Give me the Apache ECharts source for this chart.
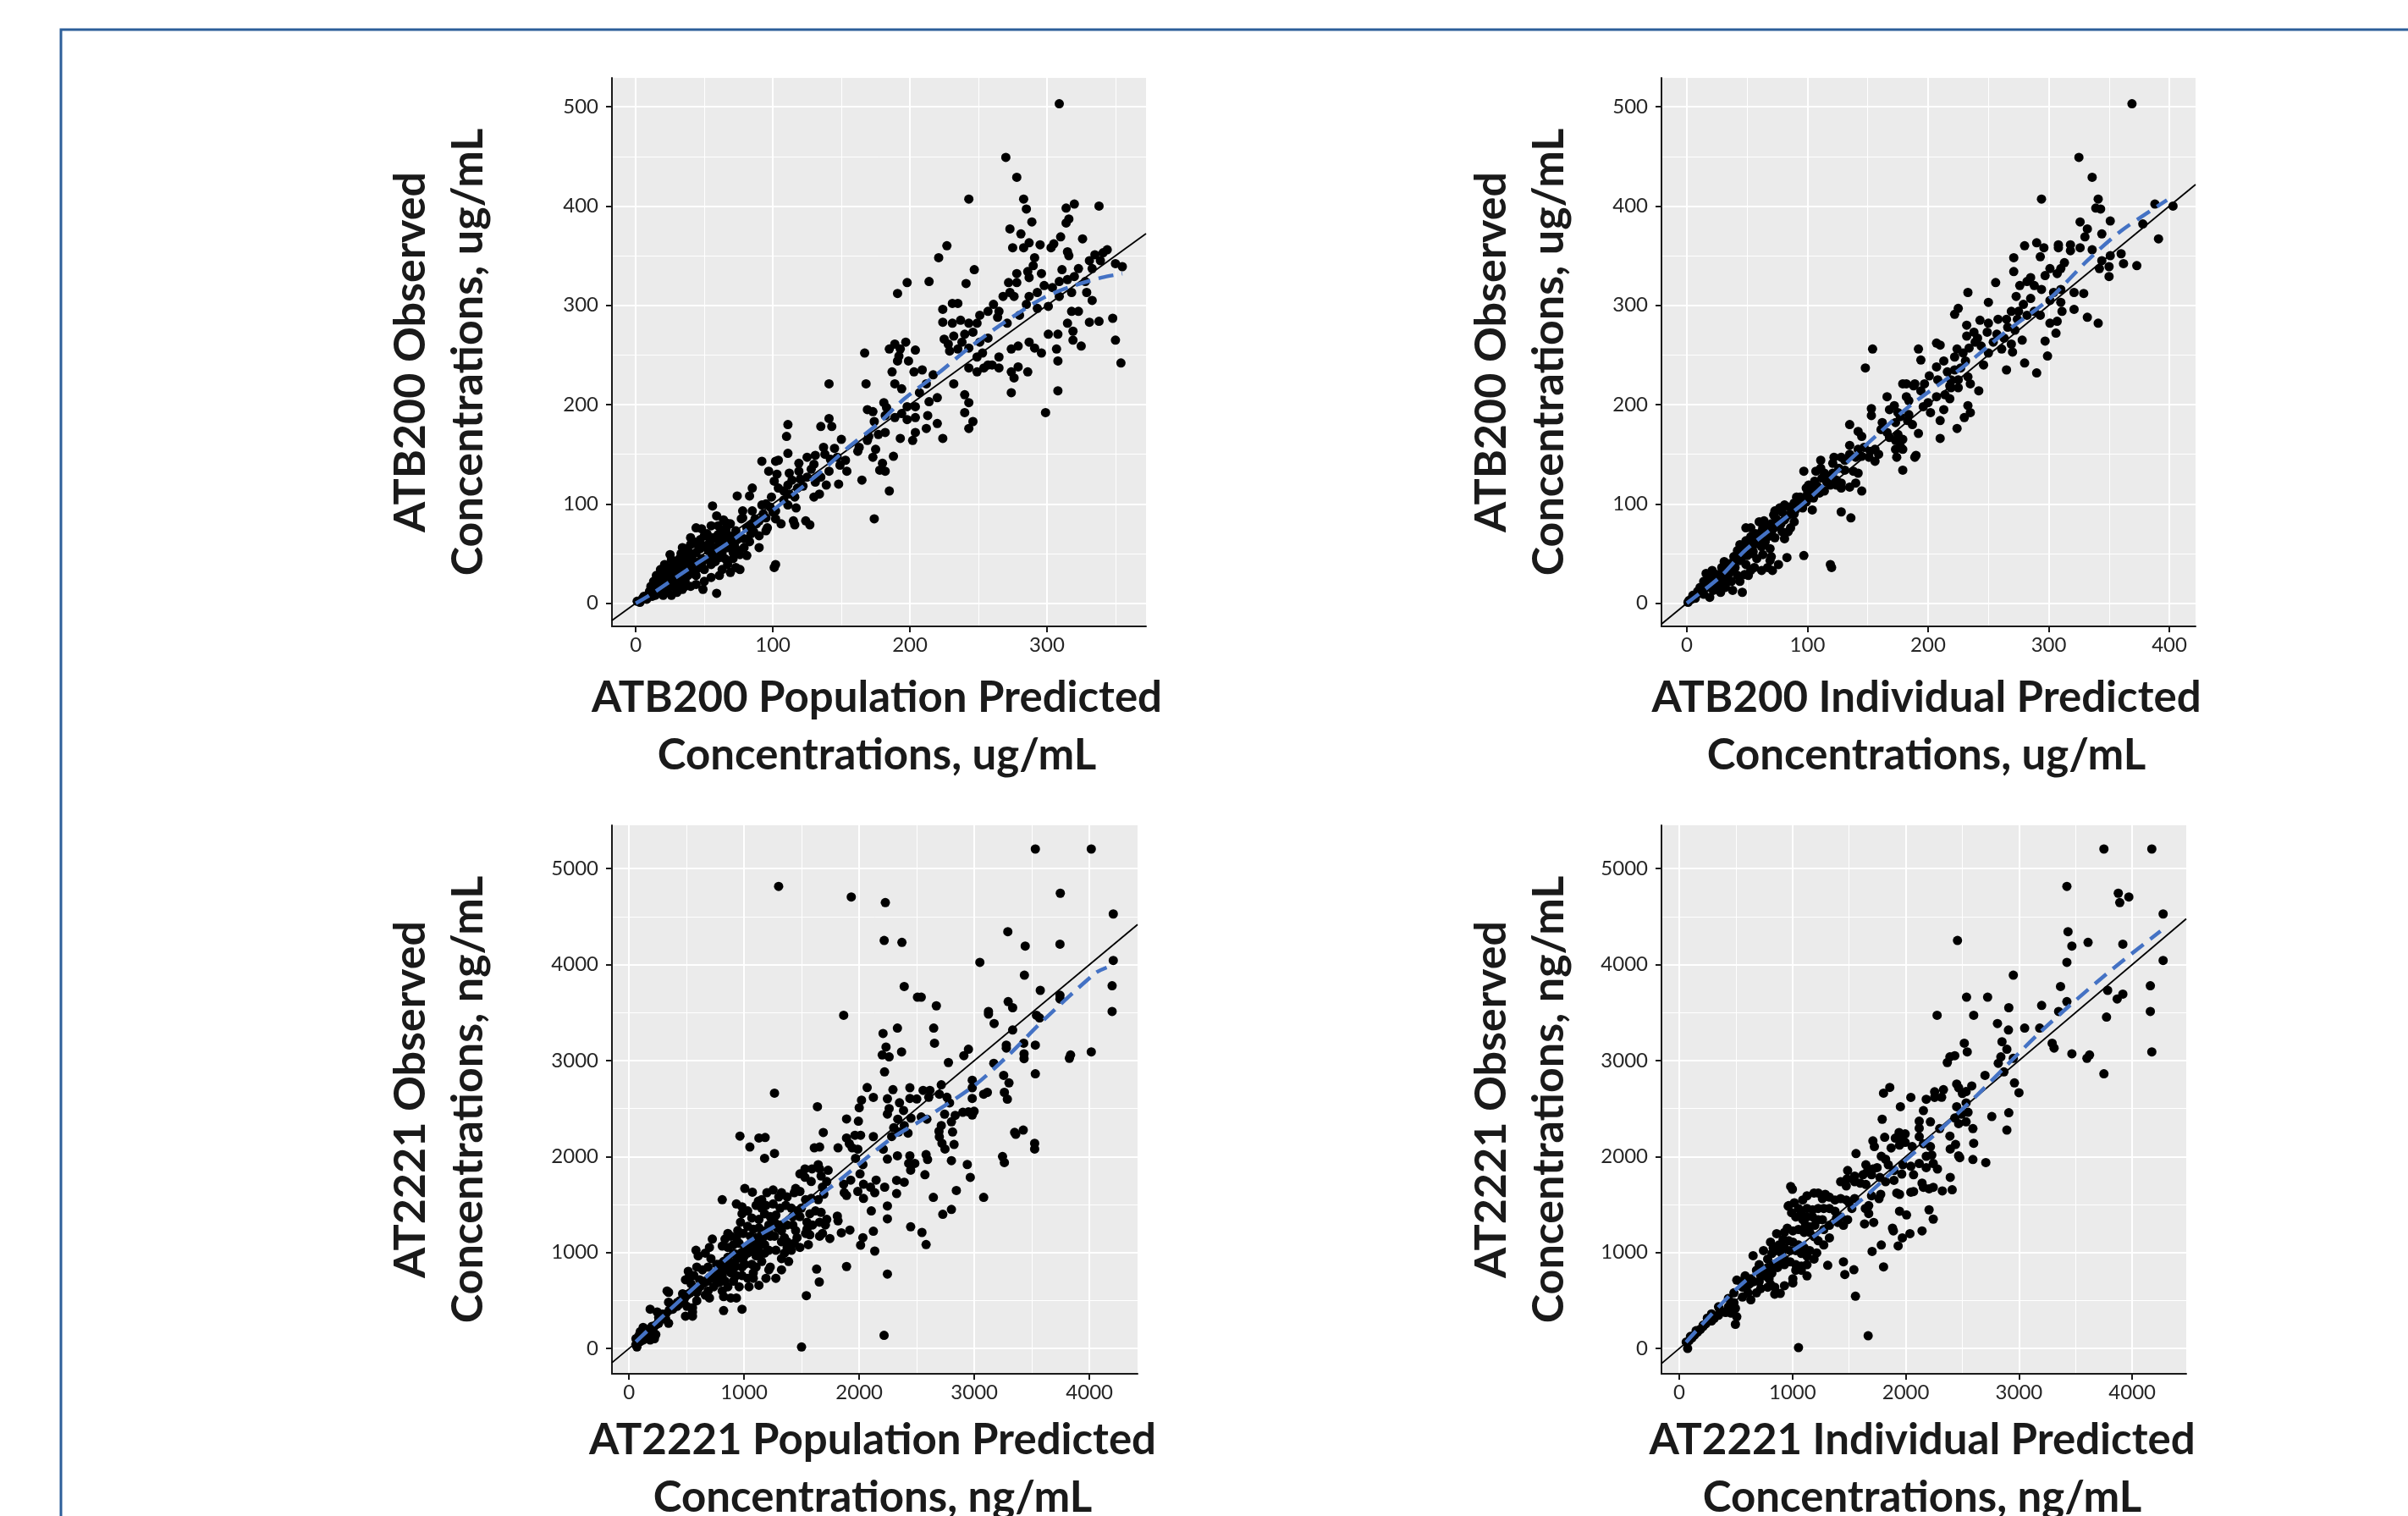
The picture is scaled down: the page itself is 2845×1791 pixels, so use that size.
<!DOCTYPE html>
<html><head><meta charset="utf-8">
<script src="https://cdn.jsdelivr.net/npm/echarts@6/dist/echarts.min.js"></script>
<style>html,body{margin:0;padding:0;background:#fff;}#chart{width:2845px;height:1791px;}</style>
</head><body><div id="chart"></div>
<script>
// ---------- DATA ----------
// ATB200: [population predicted, observed] (ug/mL)
const atb200PopPoints = [
[141,221],[111,180],[110,168],[135,178],[141,186],[143,178],[150,165],[111,151],[92,143],[102,143],[104,144],[97,133],[103,130],[112,131],[119,141],[125,147],[131,149],[137,157],[145,156],[147,147],[153,144],[163,157],[162,153],[165,124],[149,139],[154,133],[141,133],[135,127],[148,120],[139,119],[131,122],[125,127],[119,133],[114,124],[111,119],[118,116],[116,107],[108,113],[104,116],[101,123],[130,107],[134,110],[99,107],[92,99],[98,97],[95,86],[102,85],[106,80],[115,83],[116,79],[124,83],[127,79],[111,99],[117,96],[102,93],[85,93],[87,85],[84,79],[95,73],[90,68],[83,62],[79,65],[73,73],[78,93],[74,108],[83,108],[85,116],[56,98],[59,88],[66,81],[78,86],[44,76],[48,75],[55,78],[40,66],[50,68],[60,69],[65,65],[70,59],[75,53],[81,48],[76,49],[71,45],[73,36],[67,39],[63,34],[69,31],[61,28],[55,26],[50,22],[101,36],[102,39],[49,14],[59,10],[34,56],[40,59],[25,49],[26,44],[36,39],[44,51],[48,45],[53,53],[57,48],[44,34],[38,28],[32,22],[36,17],[30,19],[24,25],[20,28],[18,34],[15,28],[22,36],[26,34],[28,28],[13,22],[11,17],[17,14],[22,11],[26,8],[9,8],[5,5],[1,2],[3,1],[7,5],[14,8],[30,11],[34,14],[40,17],[33,34],[37,45],[31,39],[21,39],[19,22],[24,17],[30,25],[36,22],[44,28],[46,36],[50,34],[55,39],[57,56],[61,62],[63,51],[65,45],[67,56],[54,62],[45,59],[39,51],[35,48],[28,34],[32,45],[42,42],[19,17],[10,12],[8,4],[12,7],[15,9],[20,8],[23,14],[27,17],[44,19],[76,34],[61,46],[71,51],[66,71],[71,68],[79,56],[90,56],[77,85],[96,76],
[12,14],[16,18],[18,12],[22,20],[25,22],[28,20],[30,30],[33,28],[35,30],[38,36],[40,38],[42,30],[45,40],[48,38],[52,44],[55,50],[58,42],[60,55],[62,48],[64,60],[68,62],[70,66],[72,58],[74,64],[20,24],[24,30],[27,38],[16,24],[14,16],[10,10],[6,7],[4,3],[29,42],[33,50],[36,55],[41,47],[47,55],[51,58],[58,65],[62,72],[66,76],[69,80],[52,70],[56,66],[60,78],[64,84],[47,64],[42,62],[86,72],[88,80],[93,90],[81,76],[84,70],[90,83],[100,92],[95,100],[108,104],[112,110],[122,118],[120,125],[128,135],[130,140],[142,145],[138,150],
[309,503],[270,449],[278,429],[243,407],[283,407],[285,397],[314,398],[320,402],[338,400],[289,384],[273,377],[281,372],[314,383],[316,387],[310,369],[326,367],[275,358],[283,358],[287,363],[295,361],[303,358],[305,362],[315,354],[316,350],[335,351],[341,353],[344,356],[331,345],[339,345],[333,337],[350,342],[355,339],[227,360],[221,348],[198,323],[191,312],[214,324],[241,322],[247,336],[291,348],[290,340],[286,334],[278,332],[272,323],[278,323],[273,313],[268,309],[276,309],[287,328],[296,332],[298,320],[293,313],[287,309],[304,318],[311,336],[315,326],[320,329],[323,337],[329,313],[333,305],[309,324],[318,313],[328,324],[309,309],[301,299],[293,297],[285,301],[280,290],[271,282],[264,288],[261,301],[257,294],[265,294],[251,290],[249,282],[243,282],[240,271],[246,273],[238,263],[235,256],[229,254],[231,302],[235,302],[224,296],[224,283],[231,282],[237,285],[225,266],[228,261],[232,269],[243,257],[251,263],[257,267],[253,252],[249,248],[243,237],[249,233],[254,237],[260,240],[265,248],[257,240],[265,237],[274,256],[279,259],[287,263],[291,257],[296,252],[301,271],[308,271],[307,256],[308,244],[308,214],[299,192],[319,274],[325,259],[319,265],[274,233],[279,238],[276,227],[286,233],[274,212],[232,221],[240,210],[243,202],[240,192],[246,183],[243,176],[354,242],[350,265],[348,287],[338,284],[331,283],[318,294],[315,282],[323,294],
[167,252],[168,221],[185,256],[189,261],[197,263],[193,256],[192,249],[199,244],[204,255],[191,244],[187,233],[189,221],[194,216],[203,233],[209,235],[207,212],[212,221],[217,230],[220,207],[214,203],[204,198],[198,198],[194,191],[198,185],[204,187],[213,189],[220,181],[224,166],[212,176],[204,172],[202,164],[193,166],[189,187],[183,197],[182,189],[181,202],[173,193],[169,195],[174,183],[170,168],[177,170],[182,172],[188,148],[175,155],[173,147],[180,141],[178,134],[182,133],[185,113],[174,85],[169,164]
];
// ATB200: [individual predicted, observed] (ug/mL)
const atb200IndPoints = [
[179,221],[182,221],[188,219],[166,208],[182,208],[184,204],[172,199],[168,195],[153,196],[153,189],[175,192],[177,188],[184,190],[183,184],[187,180],[162,182],[173,182],[161,175],[166,172],[168,167],[175,170],[179,165],[173,164],[177,158],[173,155],[179,155],[174,147],[179,134],[189,147],[135,180],[142,173],[145,168],[135,159],[142,155],[147,157],[152,153],[156,155],[159,150],[156,143],[151,147],[145,148],[140,147],[135,150],[131,144],[128,147],[122,147],[121,141],[111,144],[111,136],[107,133],[114,131],[121,131],[126,136],[131,134],[138,133],[142,131],[140,121],[145,113],[128,121],[124,124],[119,127],[112,126],[106,123],[101,119],[105,113],[100,110],[99,116],[110,111],[114,113],[119,119],[124,119],[128,116],[135,117],[97,133],[105,106],[94,107],[91,107],[89,101],[93,99],[104,94],[96,96],[89,93],[85,97],[81,99],[77,96],[73,93],[72,89],[74,85],[81,84],[89,82],[86,76],[84,72],[79,72],[73,66],[67,67],[63,76],[60,82],[64,83],[67,77],[71,74],[74,77],[70,80],[49,76],[53,76],[53,67],[49,63],[58,65],[64,59],[69,55],[70,47],[63,49],[58,45],[53,50],[48,56],[44,59],[42,53],[39,47],[44,43],[49,39],[53,33],[48,29],[42,28],[39,33],[36,38],[31,42],[29,36],[35,30],[34,22],[38,13],[46,11],[28,19],[23,22],[22,13],[17,16],[18,25],[16,30],[21,33],[25,29],[14,22],[11,16],[9,12],[5,8],[2,3],[1,1],[7,5],[14,9],[19,6],[28,11],[32,16],[25,16],[32,28],[37,22],[44,22],[51,28],[56,36],[62,33],[67,36],[71,33],[76,39],[69,43],[83,46],[97,48],[62,57],[57,70],[55,59],[81,65],[77,82],[119,39],[120,36],[128,92],[136,86],[108,114],[117,124],[89,90],[79,92],
[10,10],[12,14],[15,18],[20,20],[24,24],[27,26],[30,32],[33,35],[36,40],[40,42],[43,46],[46,50],[50,54],[54,56],[57,60],[60,64],[63,68],[66,70],[70,72],[75,78],[78,80],[82,88],[86,90],[90,94],[95,98],[99,102],[103,108],[108,118],[116,122],[20,16],[26,22],[30,26],[35,33],[40,36],[45,45],[50,48],[55,52],[60,60],[65,62],[70,68],[6,6],[4,4],[17,20],[23,28],[45,52],[52,60],[58,68],[62,72],
[369,503],[325,449],[336,429],[294,407],[341,407],[339,398],[343,397],[388,402],[403,400],[326,384],[351,385],[378,382],[332,377],[330,369],[344,372],[391,367],[280,360],[290,363],[296,358],[308,361],[308,358],[318,361],[326,358],[318,355],[336,356],[351,350],[360,352],[362,342],[373,340],[350,339],[344,345],[342,337],[350,329],[271,348],[271,334],[293,349],[285,328],[301,337],[307,332],[310,337],[313,343],[297,330],[288,320],[294,316],[304,313],[310,316],[301,305],[310,303],[321,313],[329,312],[321,296],[311,294],[307,284],[301,282],[306,272],[297,264],[299,249],[290,232],[280,242],[270,253],[265,235],[278,265],[332,288],[341,282],[282,324],[276,320],[273,309],[279,301],[285,307],[288,294],[293,290],[282,290],[274,286],[266,278],[272,275],[263,267],[257,271],[261,256],[269,261],[275,294],[269,294],[265,286],[258,286],[250,282],[249,273],[241,267],[244,259],[254,263],[250,252],[246,240],[242,214],[256,323],[250,303],[243,285],[225,297],[222,291],[232,280],[232,269],[238,273],[239,263],[234,257],[229,252],[231,244],[224,256],[222,248],[227,237],[222,235],[216,233],[219,225],[225,225],[233,228],[235,221],[225,217],[218,219],[233,313],[207,262],[210,260],[192,256],[194,245],[207,238],[213,244],[201,229],[208,225],[197,221],[189,221],[194,214],[200,202],[207,208],[214,210],[219,217],[218,206],[196,198],[213,195],[202,192],[233,199],[235,192],[230,187],[224,176],[210,184],[210,166],[190,149],[192,171],[148,237],[154,256]
];
// AT2221: [population predicted, observed] (ng/mL)
const at2221PopPoints = [
[1264,2661],[1637,2520],[2069,2719],[2123,2617],[2020,2588],[2000,2509],[2245,2602],[2245,2442],[1890,2392],[1993,2368],[964,2213],[1129,2193],[1183,2199],[1050,2099],[1178,1982],[1264,2032],[1688,2251],[1610,2091],[1656,2099],[1816,2091],[1890,2193],[1963,2222],[2012,2222],[1914,2135],[1939,2091],[1988,2076],[2123,2208],[2209,2076],[2245,1974],[1968,1982],[2032,1915],[2007,1819],[2147,1754],[2221,1681],[2098,1681],[2037,1711],[1988,1637],[2037,1564],[2135,1623],[2245,1485],[2105,1433],[2245,1351],[2123,1222],[2032,1155],[2012,1076],[2135,1015],[2245,775],[1890,854],[1919,1234],[1845,1205],[1865,1711],[1926,1754],[1870,1623],[1890,1594],[1656,1871],[1730,1857],[1644,1915],[1590,1871],[1529,1871],[1485,1819],[1529,1784],[1583,1740],[1669,1798],[1718,1740],[1681,1681],[1693,1608],[1644,1550],[1583,1564],[1534,1550],[1485,1637],[1448,1667],[1436,1623],[1374,1579],[1325,1623],[1301,1579],[1252,1652],[1198,1623],[1153,1550],[1124,1535],[1104,1491],[1153,1462],[1190,1491],[1252,1506],[1313,1462],[1362,1491],[1411,1462],[1460,1433],[1497,1462],[1571,1404],[1620,1433],[1669,1418],[1718,1345],[1706,1287],[1656,1316],[1595,1287],[1546,1316],[1546,1243],[1571,1184],[1656,1170],[1681,1199],[1745,1146],[1810,1380],[1816,1330],[1558,1082],[1448,1228],[1460,1155],[1436,1096],[1411,1023],[1374,1053],[1350,1155],[1325,1228],[1313,1287],[1264,1316],[1215,1287],[1227,1374],[1276,1389],[1178,1404],[1129,1345],[1067,1360],[1031,1433],[982,1404],[933,1506],[982,1477],[1006,1667],[1072,1629],[810,1550],[969,1316],[1031,1272],[1080,1243],[1129,1257],[1190,1228],[1264,1170],[1325,1111],[1374,1111],[1350,994],[1325,936],[1276,1023],[1215,1023],[1178,1082],[1129,1111],[1104,1155],[1055,1170],[994,1199],[945,1228],[933,1155],[884,1170],[859,1199],[834,1140],[810,1067],[859,1053],[908,1082],[957,1096],[1006,1053],[1031,994],[1080,1009],[1129,965],[1153,906],[1104,848],[1067,877],[1006,877],[982,936],[933,965],[908,994],[859,950],[822,906],[785,877],[834,833],[884,789],[933,760],[982,760],[1031,731],[1080,731],[1129,658],[1043,643],[1190,731],[1215,819],[1276,731],[1080,789],[982,848],[724,1140],[699,1053],[582,1023],[601,965],[663,994],[712,936],[761,877],[687,848],[638,819],[589,848],[515,804],[564,760],[614,716],[663,702],[712,731],[761,789],[810,760],[834,702],[785,687],[736,643],[687,599],[699,526],[663,556],[589,585],[564,614],[540,673],[491,716],[515,731],[810,599],[859,643],[822,541],[822,395],[479,512],[503,439],[552,424],[552,336],[491,336],[552,380],[417,439],[442,497],[589,497],[344,585],[344,482],[331,599],[184,409],[245,380],[290,357],[258,322],[319,307],[344,263],[258,263],[221,234],[196,205],[172,175],[123,219],[98,175],[86,132],[61,102],[69,15],[147,117],[184,88],[221,102],[233,146],[209,175],[147,146],[123,88],[98,73],[982,409],[933,526],[884,526],[1541,550],[1499,15],[1630,827],[1653,693],[2216,137],[466,570],[430,453],[380,409],[908,702],[957,643],[920,848],[1141,1170],[1227,1170],[1288,1257],[1374,1287],[1423,1374],[1485,1374],[1423,1287],[1534,1199],[1485,1053],[1387,906],[1325,819],[1227,848],[1178,994],[1104,965],
[80,60],[110,120],[150,160],[200,230],[260,290],[300,330],[350,400],[400,450],[450,500],[500,560],[560,600],[620,650],[680,700],[740,760],[800,820],[860,880],[920,900],[980,1000],[1040,1020],[1100,1080],[1160,1150],[1220,1200],[60,40],[130,150],[170,200],[240,250],[280,310],[320,360],[380,430],[420,480],[470,520],[530,580],[600,620],[650,680],[700,740],[760,720],[820,860],[880,840],[940,980],[1000,960],[1060,1100],[1120,1040],
[1300,4815],[1931,4705],[2227,4646],[3530,5205],[4016,5205],[3747,4744],[4207,4528],[2217,4252],[2371,4232],[3291,4343],[3442,4193],[3744,4213],[3048,4024],[4207,4043],[3435,3890],[2391,3772],[2506,3661],[2539,3661],[2670,3571],[3573,3732],[3744,3681],[3744,3642],[4197,3780],[4197,3512],[3294,3614],[3333,3551],[3123,3512],[3123,3484],[3172,3386],[3540,3472],[3567,3445],[3333,3319],[3278,3161],[3278,3130],[3429,3181],[3530,3161],[3432,3071],[3432,3020],[3826,3024],[3836,3059],[4016,3091],[3530,2862],[3255,2846],[3301,2768],[3261,2669],[3287,2598],[3081,2650],[3113,2669],[3169,2972],[2949,3118],[2909,3051],[2647,3339],[2332,3339],[2654,3181],[2368,3091],[1865,3472],[2207,3283],[2233,3142],[2200,3059],[2260,3039],[2220,2882],[2775,2980],[2713,2748],[2982,2795],[2982,2717],[2982,2606],[2949,2465],[2998,2472],[2982,2433],[2900,2461],[2834,2429],[2801,2362],[2811,2256],[2824,2126],[2801,1957],[2745,2079],[2719,2138],[2696,2205],[2693,2264],[2713,2323],[2742,2441],[2785,2559],[2762,2618],[2696,2650],[2614,2689],[2555,2689],[2604,2618],[2440,2717],[2440,2606],[2293,2697],[2385,2480],[2335,2390],[2342,2256],[2391,2323],[2424,2244],[2440,2008],[2430,1929],[2447,1858],[2539,2413],[2588,2390],[2581,2020],[2594,1969],[2939,1917],[2965,1783],[3081,1575],[2844,1646],[2801,1449],[2726,1398],[2447,1268],[2545,1209],[2581,1083],[2325,1752],[3245,2000],[3261,1937],[3350,2252],[3360,2232],[3425,2276],[3524,2138],[3524,2079],
[2282,2209],[2332,2008],[2391,1732],[2483,1929],[2571,1811],[2644,1575],[2325,1614],[2300,2300],[2260,2500],[2350,2560],[2500,2600],[2450,2400]
];
// AT2221: [individual predicted, observed] (ng/mL)
const at2221IndPoints = [
[1859,2720],[1804,2661],[2045,2617],[2181,2597],[2255,2675],[2255,2617],[1953,2520],[2156,2479],[1792,2389],[2119,2368],[2218,2362],[2119,2295],[1941,2251],[1995,2236],[1814,2201],[1908,2192],[1965,2192],[1710,2163],[1723,2104],[1871,2090],[1945,2119],[1995,2148],[2057,2104],[2119,2207],[2156,2134],[2218,2104],[2230,2016],[2181,2002],[1561,2031],[1784,2002],[1822,1972],[1846,1914],[1747,1885],[1648,1914],[1710,1870],[1660,1841],[1623,1811],[1549,1796],[1487,1855],[1482,1767],[1425,1738],[1475,1694],[1549,1738],[1599,1723],[1648,1709],[1698,1811],[1772,1782],[1822,1738],[1896,1752],[1965,1817],[1896,1855],[1975,1914],[2045,1899],[2069,1811],[2181,1885],[2119,1928],[2243,1928],[2280,1870],[2144,1723],[2156,1679],[2206,1664],[2243,1679],[2069,1635],[2045,1629],[1921,1620],[1945,1606],[1779,1606],[1764,1562],[1698,1591],[1673,1489],[1643,1459],[1673,1406],[1636,1298],[1717,1313],[1945,1430],[2007,1392],[2206,1445],[2243,1348],[2144,1225],[2037,1196],[1970,1152],[1891,1225],[1883,1254],[1933,1069],[1784,1078],[1703,1011],[1804,850],[1549,1562],[1499,1518],[1524,1459],[1475,1547],[1425,1562],[1375,1547],[1326,1577],[1289,1606],[1264,1562],[1227,1620],[1190,1620],[1128,1591],[1090,1547],[1128,1459],[1177,1445],[1227,1459],[1276,1459],[1326,1459],[1375,1430],[1425,1371],[1388,1357],[1487,1342],[1450,1284],[1400,1313],[1326,1284],[1276,1240],[1326,1152],[1276,1078],[1227,1122],[1190,1166],[1152,1210],[1115,1284],[1090,1342],[1029,1371],[992,1415],[967,1489],[999,1659],[984,1688],[962,1483],[1016,1518],[1053,1459],[1078,1401],[1128,1371],[1177,1371],[1227,1342],[1264,1342],[1197,1284],[1152,1269],[1103,1210],[1053,1240],[1003,1225],[954,1254],[929,1210],[860,1196],[917,1137],[967,1122],[1003,1108],[1053,1078],[1103,1049],[1152,1020],[1214,996],[1190,932],[1128,961],[1078,990],[1029,1020],[979,1020],[929,1049],[880,1078],[830,1049],[818,990],[781,932],[744,1020],[706,873],[652,967],[682,815],[731,800],[781,844],[830,873],[880,903],[929,932],[979,903],[1029,873],[1078,859],[1128,873],[1128,756],[1078,815],[1029,815],[1003,727],[1003,683],[929,654],[892,574],[843,639],[806,668],[793,727],[756,756],[706,697],[632,727],[582,756],[545,697],[508,712],[570,639],[607,580],[558,536],[632,507],[682,580],[719,624],[781,639],[843,566],[1450,903],[1542,820],[1462,771],[1311,867],[1556,545],[1668,132],[1053,9],[496,419],[483,478],[458,369],[508,331],[496,252],[434,434],[409,375],[359,404],[347,346],[310,316],[285,287],[248,316],[235,258],[211,229],[186,199],[161,170],[136,141],[112,111],[87,82],[62,67],[74,0],[99,126],[149,185],[211,243],[285,360],[347,434],[434,522],[483,580],[558,639],[607,668],[657,697],[719,756],[769,815],[818,785],[868,844],[929,873],[905,990],[855,1020],[806,1108],
[3750,5205],[4173,5205],[3423,4815],[3877,4744],[3890,4646],[3970,4705],[4273,4528],[2457,4252],[3433,4343],[3610,4232],[3467,4193],[3917,4213],[3423,4024],[4273,4043],[2950,3890],[3367,3772],[3783,3732],[3917,3693],[3867,3642],[4160,3780],[4160,3512],[2537,3661],[2723,3661],[2277,3472],[2600,3472],[2910,3551],[3200,3575],[3423,3614],[3350,3512],[3773,3453],[3050,3339],[3183,3339],[2810,3386],[2907,3319],[3293,3181],[3310,3130],[3467,3071],[3600,3024],[3623,3059],[4173,3091],[3750,2862],[2850,3197],[2893,3118],[2517,3181],[2543,3091],[2433,3051],[2390,3039],[2367,2980],[2840,3039],[2817,2972],[2867,2882],[2950,3024],[2700,2846],[2960,2768],[3000,2665],[2760,2417],[2910,2457],[2893,2276],[2707,1937],[2600,2138],[2593,1969],[2593,2291],[2550,2461],[2533,2362],[2493,2441],[2467,2343],[2433,2402],[2450,2520],[2533,2559],[2500,2657],[2467,2717],[2583,2736],[2533,2677],[2450,2756],[2333,2697],[2317,2618],[2300,2291],[2390,2213],[2440,2126],[2393,2079],[2467,2008],[2477,1988],[2410,1654],[2393,1783],[2323,1642]
];
// Loess smooth curves (blue dashed)
const atb200PopLoess = [[0,0],[10,8],[39,35],[72,65],[105,99],[133,130],[155,157],[177,181],[196,206],[221,232],[243,257],[268,282],[298,308],[320,320],[340,328],[355,332]];
const atb200IndLoess = [[0,0],[28,27],[49,54],[100,104],[132,141],[160,172],[184,198],[229,238],[263,272],[301,307],[332,345],[360,375],[398,406]];
const at2221PopLoess = [[60,70],[470,530],[1000,1080],[1330,1320],[1740,1670],[2270,2180],[2600,2420],[3000,2740],[3300,3060],[3600,3420],[4050,3910],[4150,3970]];
const at2221IndLoess = [[60,65],[580,700],[1130,1120],[1550,1490],[1930,1890],[2290,2265],[2630,2640],[3200,3310],[3770,3900],[4250,4350]];
// Tick labels
const atb200PopXTicks = [0,100,200,300];
const atb200IndXTicks = [0,100,200,300,400];
const atb200YTicks = [0,100,200,300,400,500];
const at2221XTicks = [0,1000,2000,3000,4000];
const at2221YTicks = [0,1000,2000,3000,4000,5000];
// Axis extents
const xExtents = [[-17.4,372.3],[-21,421.7],[-148,4418],[-157,4477]];
const yExtents = [[-23.3,529.1],[-23.3,529.1],[-264,5452],[-264,5452]];
// Titles
const xTitles = ['ATB200 Population Predicted\nConcentrations, ug/mL','ATB200 Individual Predicted\nConcentrations, ug/mL','AT2221 Population Predicted\nConcentrations, ng/mL','AT2221 Individual Predicted\nConcentrations, ng/mL'];
const yTitles = ['ATB200 Observed\nConcentrations, ug/mL','ATB200 Observed\nConcentrations, ug/mL','AT2221 Observed\nConcentrations, ng/mL','AT2221 Observed\nConcentrations, ng/mL'];

// ---------- LAYOUT ----------
const grids = [
  {left:723, top:92, width:631, height:648},
  {left:1963, top:92, width:631, height:648},
  {left:723, top:975, width:621, height:648},
  {left:1963, top:975, width:620, height:648}
];
const pointSets = [atb200PopPoints, atb200IndPoints, at2221PopPoints, at2221IndPoints];
const loessSets = [atb200PopLoess, atb200IndLoess, at2221PopLoess, at2221IndLoess];
const xTickSets = [atb200PopXTicks, atb200IndXTicks, at2221XTicks, at2221XTicks];
const yTickSets = [atb200YTicks, atb200YTicks, at2221YTicks, at2221YTicks];
const yTitlePos = [[519,416],[1796,416],[519,1299],[1796,1299]];
const xTitlePos = [[1036,859],[2276,859],[1031,1736],[2271,1736]];

const AX = '#1a1a1a';
const LABEL = {fontFamily:'Lato', fontSize:24, color:'#262626', formatter: v => String(v)};

const option = {
  animation:false,
  backgroundColor:'#ffffff',
  grid: grids.map(g => Object.assign({show:true, backgroundColor:'#EBEBEB', borderWidth:0, containLabel:false, outerBoundsMode:'none'}, g)),
  xAxis: grids.map((g,i) => ({
    type:'value', gridIndex:i, min:xExtents[i][0], max:xExtents[i][1],
    axisLine:{show:true, onZero:false, lineStyle:{color:AX, width:2}},
    axisTick:{show:true, length:7, lineStyle:{color:AX, width:2}, customValues:xTickSets[i]},
    axisLabel:Object.assign({margin:10, customValues:xTickSets[i]}, LABEL),
    splitLine:{show:true, lineStyle:{color:'#ffffff', width:2}},
    minorTick:{show:false, splitNumber:2},
    minorSplitLine:{show:true, lineStyle:{color:'#ffffff', width:1}}
  })),
  yAxis: grids.map((g,i) => ({
    type:'value', gridIndex:i, min:yExtents[i][0], max:yExtents[i][1],
    axisLine:{show:true, onZero:false, lineStyle:{color:AX, width:2}},
    axisTick:{show:true, length:7, lineStyle:{color:AX, width:2}, customValues:yTickSets[i]},
    axisLabel:Object.assign({margin:16, customValues:yTickSets[i]}, LABEL),
    splitLine:{show:true, lineStyle:{color:'#ffffff', width:2}},
    minorTick:{show:false, splitNumber:2},
    minorSplitLine:{show:true, lineStyle:{color:'#ffffff', width:1}}
  })),
  series: [],
  graphic: []
};

grids.forEach((g,i) => {
  option.series.push({
    type:'scatter', xAxisIndex:i, yAxisIndex:i, data:pointSets[i],
    symbol:'circle', symbolSize:11, itemStyle:{color:'#000000', opacity:1}, z:2, silent:true
  });
  const lo = Math.max(xExtents[i][0], yExtents[i][0]);
  const hi = Math.min(xExtents[i][1], yExtents[i][1]);
  option.series.push({
    type:'line', xAxisIndex:i, yAxisIndex:i, data:[[lo,lo],[hi,hi]],
    symbol:'none', lineStyle:{color:'#000000', width:1.8}, z:3, silent:true
  });
  option.series.push({
    type:'line', xAxisIndex:i, yAxisIndex:i, data:loessSets[i], smooth:0.3,
    symbol:'none', lineStyle:{color:'#4472C4', width:4.5, type:[18,10]}, z:4, silent:true
  });
  option.graphic.push({
    type:'text', x:yTitlePos[i][0], y:yTitlePos[i][1], rotation:Math.PI/2,
    style:{text:yTitles[i], fontFamily:'Lato', fontWeight:'bold', fontSize:52, lineHeight:68, fill:'#1a1a1a', align:'center', verticalAlign:'middle'}
  });
  option.graphic.push({
    type:'text', x:xTitlePos[i][0], y:xTitlePos[i][1],
    style:{text:xTitles[i], fontFamily:'Lato', fontWeight:'bold', fontSize:51, lineHeight:68, fill:'#1a1a1a', align:'center', verticalAlign:'middle'}
  });
});
option.graphic.push({
  type:'rect', shape:{x:72, y:35, width:3000, height:2000}, z:100,
  style:{fill:'none', stroke:'#2D5F99', lineWidth:3}
});

const chart = echarts.init(document.getElementById('chart'), null, {renderer:'canvas'});
chart.setOption(option);
</script>
</body></html>
